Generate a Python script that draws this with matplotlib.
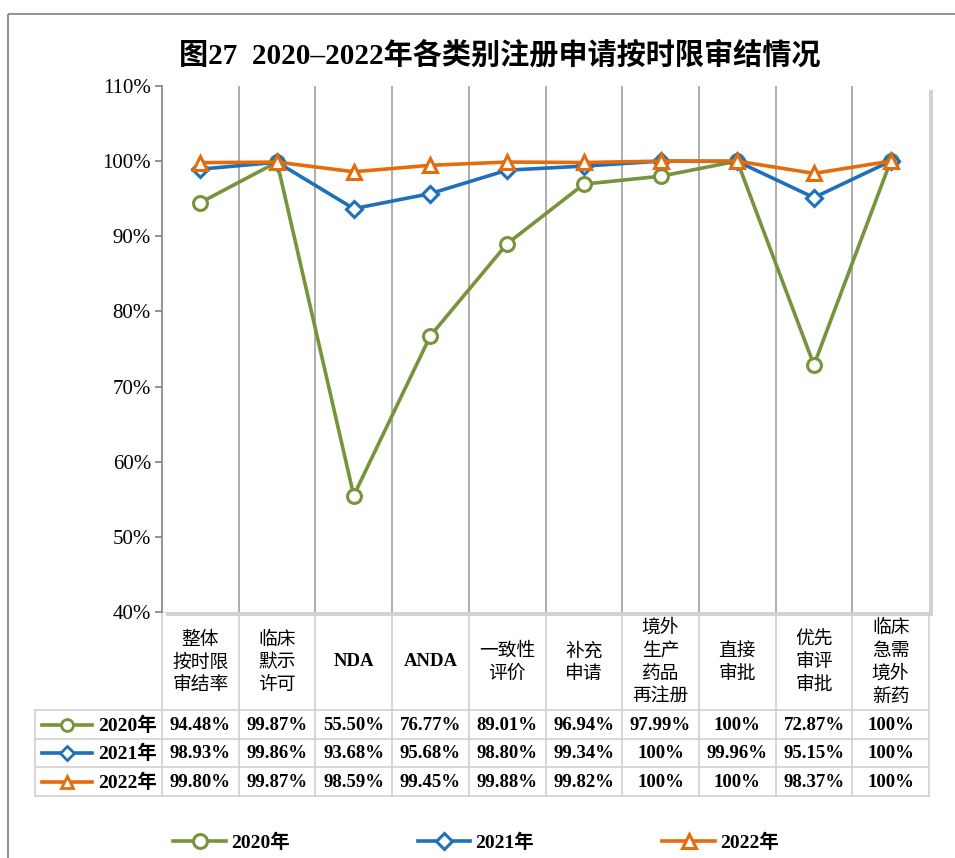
import matplotlib
matplotlib.use("Agg")
import matplotlib.pyplot as plt
from matplotlib.patches import Rectangle
from matplotlib.lines import Line2D

# ---------------- data ----------------
categories = ['整体\n按时限\n审结率', '临床\n默示\n许可', 'NDA', 'ANDA', '一致性\n评价',
              '补充\n申请', '境外\n生产\n药品\n再注册', '直接\n审批', '优先\n审评\n审批',
              '临床\n急需\n境外\n新药']
series_names = ['2020年', '2021年', '2022年']
v2020 = [94.48, 99.87, 55.50, 76.77, 89.01, 96.94, 97.99, 100, 72.87, 100]
v2021 = [98.93, 99.86, 93.68, 95.68, 98.80, 99.34, 100, 99.96, 95.15, 100]
v2022 = [99.80, 99.87, 98.59, 99.45, 99.88, 99.82, 100, 100, 98.37, 100]
yticks = [40, 50, 60, 70, 80, 90, 100, 110]
title = '图27  2020–2022年各类别注册申请按时限审结情况'

colors = ['#77933C', '#1F70BA', '#E46C0A']
markers = ['o', 'D', '^']
msizes = [10, 8, 10]
series = [v2020, v2021, v2022]

W, H = 955, 858
fig = plt.figure(figsize=(W / 100, H / 100), dpi=100)

def fx(x):
    return x / W

def fy(y):
    return 1 - y / H

SERIF = ['Liberation Serif', 'Noto Sans CJK SC']
CJK = ['Noto Sans CJK SC', 'DejaVu Sans']

# overlay axes in pixel coordinates for frame/table
ov = fig.add_axes([0, 0, 1, 1], zorder=0)
ov.set_xlim(0, W)
ov.set_ylim(H, 0)
ov.axis('off')

# outer frame
ov.add_patch(Rectangle((8, 14), W + 20, H + 20, fill=False, edgecolor='#7f7f7f', lw=1.2))

# plot area geometry
L, R, T, B = 162, 929, 86, 612
# shadow
ov.add_patch(Rectangle((L + 4, T + 4), R - L, B - T, facecolor='#c8c8c8', edgecolor='none', alpha=0.8))

ax = fig.add_axes([fx(L), fy(B), fx(R - L), (B - T) / H], zorder=2)
ax.set_facecolor('white')
n = len(categories)
x = list(range(n))
for vals, c, m, ms, name in zip(series, colors, markers, msizes, series_names):
    ax.plot(x, vals, color=c, lw=2.6, marker=m, markersize=ms, markerfacecolor='white',
            markeredgecolor=c, markeredgewidth=2.2, label=name, clip_on=False, zorder=3)
ax.set_xlim(-0.5, n - 0.5)
ax.set_ylim(40, 110)
ax.set_yticks(yticks)
ax.set_yticklabels([f'{t}%' for t in yticks], fontsize=15, family=SERIF)
ax.set_xticks([])
for b in [i + 0.5 for i in range(n - 1)]:
    ax.axvline(b, color='#a0a0a0', lw=1.2, zorder=1)
for s in ['top', 'right', 'bottom']:
    ax.spines[s].set_visible(False)
ax.spines['left'].set_color('#808080')
ax.spines['left'].set_linewidth(1.2)
ax.tick_params(axis='y', length=5, color='#808080', width=1.2, pad=3)

# ---------------- table ----------------
colw = (R - L) / n
tcol = '#d0d0d0'
hdr_top, hdr_bot = B, 710
row_edges = [710, 739, 767, 796]
tleft = 35
for i in range(n + 1):
    xx = L + i * colw
    ov.plot([xx, xx], [hdr_top, row_edges[-1]], color=tcol, lw=1.2, zorder=1)
ov.plot([tleft, tleft], [row_edges[0], row_edges[-1]], color=tcol, lw=1.2)
ov.plot([L, R], [hdr_top, hdr_top], color=tcol, lw=1.2)
for ye in row_edges:
    ov.plot([tleft, R], [ye, ye], color=tcol, lw=1.2)

for i, lab in enumerate(categories):
    cx = L + (i + 0.5) * colw
    if any(ord(ch) > 255 for ch in lab):
        ov.text(cx, (hdr_top + hdr_bot) / 2 + 1, lab, ha='center', va='center', fontsize=13.5,
                family=CJK, linespacing=1.12)
    else:
        ov.text(cx, (hdr_top + hdr_bot) / 2 + 1, lab, ha='center', va='center', fontsize=13.5,
                family=SERIF, fontweight='bold')

def fmt(v):
    return '100%' if v == 100 else f'{v:.2f}%'

for r, (vals, c, m, ms, name) in enumerate(zip(series, colors, markers, msizes, series_names)):
    cy = (row_edges[r] + row_edges[r + 1]) / 2
    ov.add_line(Line2D([42, 92], [cy, cy], color=c, lw=2.6))
    ov.add_line(Line2D([67], [cy], color=c, marker=m, markersize=ms * 0.85, markerfacecolor='white',
                       markeredgecolor=c, markeredgewidth=2.0))
    ov.text(157, cy + 1, name, ha='right', va='center', fontsize=14, family=SERIF, fontweight='bold')
    for i, v in enumerate(vals):
        ov.text(L + (i + 0.5) * colw, cy + 1, fmt(v), ha='center', va='center', fontsize=13.5,
                family=SERIF, fontweight='bold')

# title
ov.text(500, 55, title, ha='center', va='center', fontsize=21, fontweight='bold', family=SERIF)

# legend
handles, labels = ax.get_legend_handles_labels()
leg = fig.legend(handles, labels, loc='center', bbox_to_anchor=(fx(476), fy(843)), ncol=3,
                 frameon=False, handlelength=2.7, columnspacing=6.6, handletextpad=0.25,
                 prop={'family': SERIF, 'size': 14, 'weight': 'bold'})

fig.savefig('out.png', dpi=100)
